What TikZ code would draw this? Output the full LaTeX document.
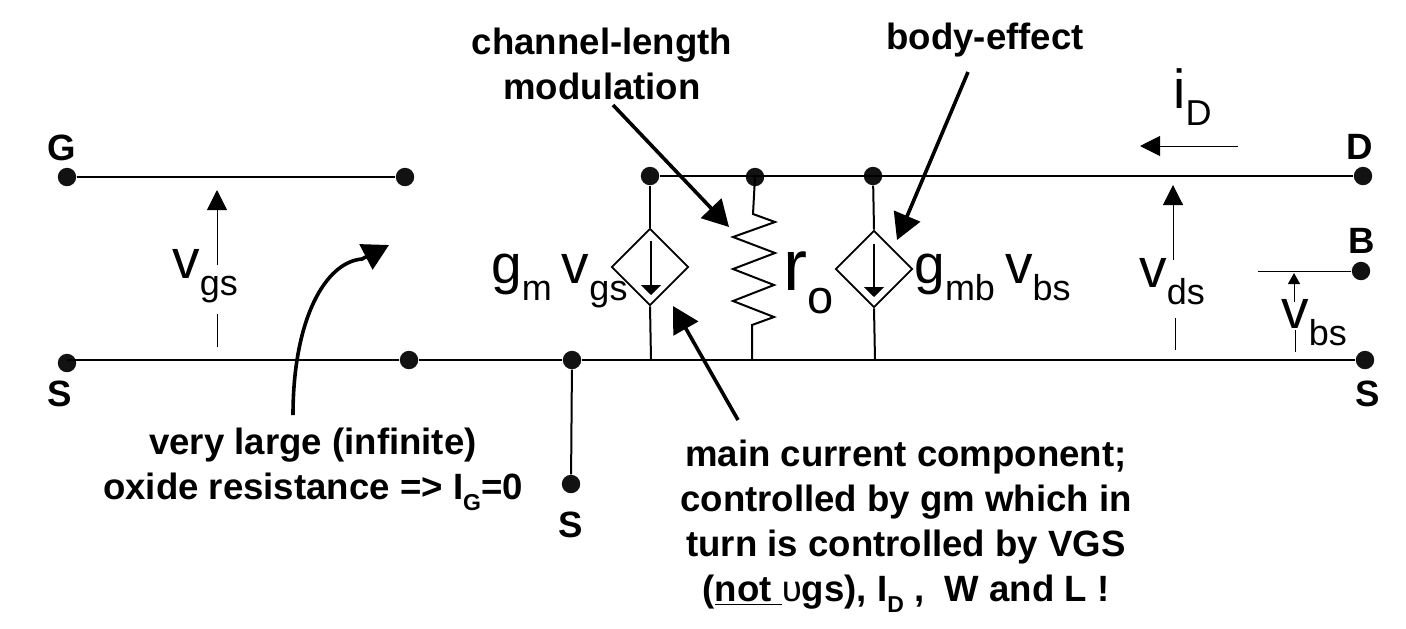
\documentclass[tikz,border=0pt]{standalone}
\usepackage{fontspec}
\setmainfont{Liberation Sans}
\usetikzlibrary{arrows.meta,shapes.geometric}
\newcommand{\low}[1]{\raisebox{-8.5pt}{\fontsize{18}{20}\selectfont #1}}
\newcommand{\lowb}[1]{\raisebox{-5.5pt}{\fontsize{11.5}{13}\selectfont #1}}

\begin{document}
\begin{tikzpicture}[x=0.5pt,y=-0.5pt,
    dot/.style={circle,fill=black!93,inner sep=0,minimum size=9.2pt},
    wire/.style={line width=1pt},
    thin wire/.style={line width=0.5pt},
    bigarrow/.style={line width=1.8pt,-{Triangle[length=13pt,width=14pt]}},
    vgarrow/.style={line width=0.5pt,-{Triangle[length=10pt,width=10pt]}},
    srcarrow/.style={line width=0.7pt,-{Triangle[length=5pt,width=10pt]}},
    src/.style={diamond,draw,line width=0.9pt,aspect=1,inner sep=0,minimum size=38.5pt},
    pin/.style={font=\bfseries\fontsize{18.3}{20}\selectfont,inner sep=0},
    note/.style={font=\bfseries\fontsize{18.3}{22.5}\selectfont,inner sep=0,align=center},
    quantity/.style={font=\fontsize{27.5}{30}\selectfont,inner sep=0,anchor=base west}]
  \useasboundingbox (0,0) rectangle (1406,628);
  \fill[white] (0,0) rectangle (1406,628);

  % terminals
  \node[dot] (g) at (67,177) {};
  \node[dot] (gend) at (405,177) {};
  \node[dot] (sl) at (67,363) {};
  \node[dot] (sm) at (409,360) {};
  \node[dot] (st) at (572,360) {};
  \node[dot] (sb) at (571,484) {};
  \node[dot] (d1) at (650,176) {};
  \node[dot] (d2) at (755,177) {};
  \node[dot] (d3) at (873,176) {};
  \node[dot] (d) at (1363,176) {};
  \node[dot] (b) at (1361,271) {};
  \node[dot] (sr) at (1365,360) {};
  \node[pin] at (62,148) {G};
  \node[pin] at (60,394) {S};
  \node[pin] at (571,525) {S};
  \node[pin] at (1360,147) {D};
  \node[pin] at (1362,241) {B};
  \node[pin] at (1368,394) {S};

  % sources
  \node[src] (gm) at (650,267) {};
  \node[src] (gmb) at (874,269) {};
  \coordinate (w1) at (651,360);
  \coordinate (w2) at (752,360);
  \coordinate (w3) at (875,360);
  \coordinate (bl) at (1258,271);

  \draw[wire] (g) -- (gend);
  \draw[wire] (sl |- sm) -- (sm) -- (st) -- (sr);
  \draw[wire] (st) -- (sb);
  \draw[wire] (d1) -- (d);
  \draw[thin wire] (bl) -- (b);
  \draw[wire] (d1) -- (gm.north);
  \draw[wire] (gm.south) -- (w1);
  \draw[wire] (d3) -- (gmb.north);
  \draw[wire] (gmb.south) -- (w3);
  \draw[wire] (d2.center) -- (753,214) -- (775,222) -- (733,237) -- (775,253)
    -- (733,269) -- (774,285) -- (733,301) -- (774,317) -- (752,325) -- (w2);
  \coordinate (a1) at (651,241);
  \coordinate (a2) at (651,295);
  \coordinate (a3) at (874,244);
  \coordinate (a4) at (874,297);
  \draw[srcarrow] (a1) -- (a2);
  \draw[srcarrow] (a3) -- (a4);

  % voltages and current
  \coordinate (vg1) at (217,265);
  \coordinate (vg2) at (217,190);
  \coordinate (vg3) at (217,314);
  \coordinate (vg4) at (217,347);
  \draw[vgarrow] (vg1) -- (vg2);
  \draw[thin wire] (vg3) -- (vg4);
  \coordinate (vd1) at (1173,260);
  \coordinate (vd2) at (1173,185);
  \coordinate (vd3) at (1175,318);
  \coordinate (vd4) at (1175,350);
  \draw[vgarrow] (vd1) -- (vd2);
  \draw[thin wire] (vd3) -- (vd4);
  \coordinate (vb1) at (1294,302);
  \coordinate (vb2) at (1294,273);
  \coordinate (vb3) at (1295,330);
  \coordinate (vb4) at (1295,352);
  \draw[line width=0.5pt,-{Triangle[length=5.5pt,width=6pt]}] (vb1) -- (vb2);
  \draw[thin wire] (vb3) -- (vb4);
  \coordinate (id1) at (1238,146);
  \coordinate (id2) at (1140,146);
  \draw[vgarrow] (id1) -- (id2);

  % labels
  \node[quantity] (lvgs) at (172,278) {v\low{gs}};
  \node[quantity] (lgm) at (491,283) {g\low{m}\kern5pt v\low{gs}};
  \node[quantity,font=\fontsize{36}{38}\selectfont] (lro) at (783,290)
    {r\raisebox{-11.5pt}{\fontsize{23.5}{25}\selectfont o}};
  \node[quantity] (lgmb) at (914,283) {g\low{mb}\kern5pt v\low{bs}};
  \node[quantity] (lvds) at (1139,287) {v\low{ds}};
  \node[quantity] (lvbs) at (1281,328) {v\low{bs}};
  \node[quantity] (lid) at (1173,108) {i\low{D}};

  % notes
  \node[note] (nch) at (602,64) {channel-length\\modulation};
  \node[note] (nbody) at (985,40) {body-effect};
  \node[note] (nox) at (313,469) {very large (infinite)\\oxide resistance => I\lowb{G}=0};
  \node[note] (nmain) at (906,526) {main current component;\\controlled by gm which in\\turn is controlled by VGS\\(\underline{not }{\mdseries υ}gs), I\lowb{D} ,\ \ W and L !};

  \coordinate (c1) at (613,105);
  \coordinate (c2) at (729,227);
  \coordinate (c3) at (968,72);
  \coordinate (c4) at (897,240);
  \coordinate (c5) at (738,420);
  \coordinate (c6) at (673,306);
  \coordinate (c7) at (293,415);
  \coordinate (c8) at (389,245);
  \draw[bigarrow] (c1) -- (c2);
  \draw[bigarrow] (c3) -- (c4);
  \draw[bigarrow] (c5) -- (c6);
  \draw[bigarrow] (c7) .. controls (293,320) and (325,262) .. (362,259) -- (c8);
\end{tikzpicture}
\end{document}
